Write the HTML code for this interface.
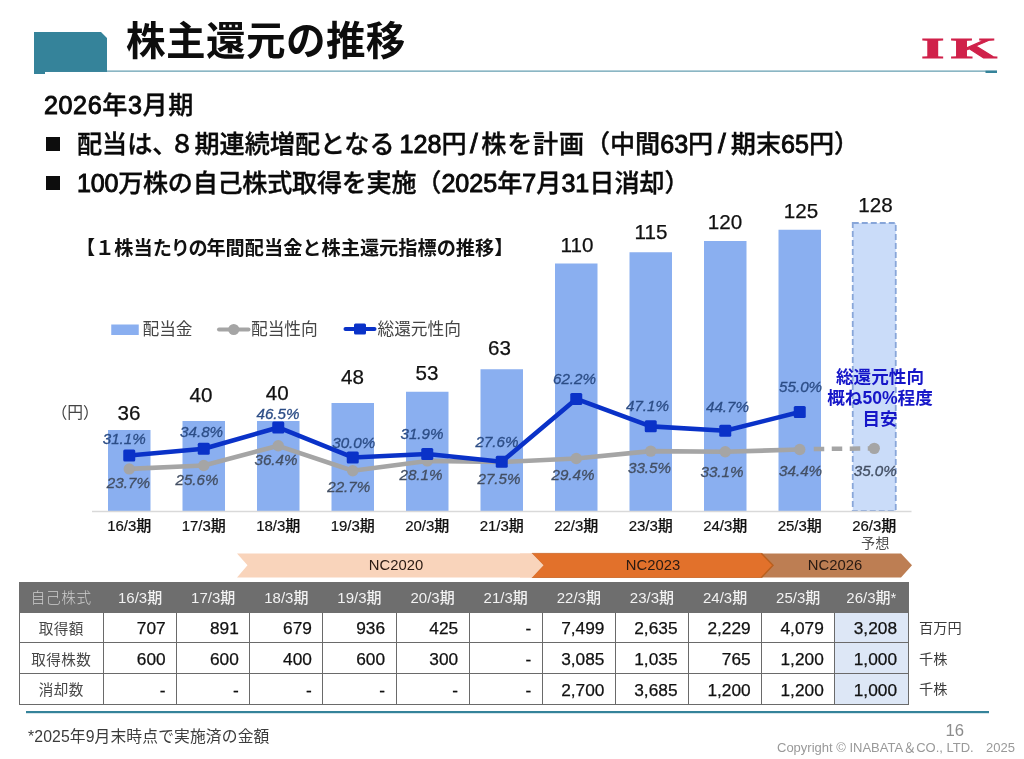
<!DOCTYPE html>
<html lang="ja"><head><meta charset="utf-8"><title>株主還元の推移</title>
<style>
html,body{margin:0;padding:0;background:#fff;}
body{width:1024px;height:759px;position:relative;overflow:hidden;font-family:"Liberation Sans","Noto Sans CJK JP",sans-serif;color:#111;}
#chart{position:absolute;left:0;top:0;}
.abs{position:absolute;white-space:nowrap;}
#title{left:126px;top:12.5px;font:bold 39.6px/56px "Liberation Sans","Noto Sans CJK JP",sans-serif;color:#0d0d0d;letter-spacing:0.4px;}
.hd{font-family:"Liberation Sans","Noto Sans CJK JP",sans-serif;font-weight:500;color:#0a0a0a;-webkit-text-stroke:0.35px #0a0a0a;font-size:25.1px;line-height:36px;}
.m3{margin-left:5px;}
.w{letter-spacing:0.8px;}
.d{-webkit-text-stroke:0.95px #0a0a0a;}
.sl2{padding:0 4.9px;font-size:1.12em;line-height:1;-webkit-text-stroke:0.9px #0a0a0a;}
.sl{padding:0 3.5px;font-size:1.12em;line-height:1;-webkit-text-stroke:0.9px #0a0a0a;}
.n{letter-spacing:-0.25px;}
.p{letter-spacing:-8px;}
#h1{left:44px;top:87px;letter-spacing:0.6px;}
#b1{left:77px;top:126px;}
#b2{left:77px;top:165.2px;}
.sq{position:absolute;width:14px;height:14px;background:#0d0d0d;left:46px;}
#sub{left:76px;top:235.2px;font:bold 19.2px/28px "Liberation Sans","Noto Sans CJK JP",sans-serif;color:#111;}
svg text{font-family:"Liberation Sans","Noto Sans CJK JP",sans-serif;}
.leg text{font-size:16.7px;fill:#444;font-family:"Liberation Sans","Noto Sans CJK JP",sans-serif;font-weight:400;}
.bl text{font-size:20.6px;fill:#111;text-anchor:middle;stroke:#111;stroke-width:0.25px;}
.dl text{font-size:15.2px;font-style:italic;text-anchor:middle;stroke-width:0.3px;}
.dl.b text{fill:#2c4d86;stroke:#2c4d86;}
.dl.g text{fill:#434f63;stroke:#434f63;}
.xl text{font-size:15px;fill:#111;text-anchor:middle;font-weight:500;stroke:#111;stroke-width:0.2px;}
.yos{font-size:14.2px;fill:#4d4d4d;text-anchor:middle;font-family:"Liberation Sans","Noto Sans CJK JP",sans-serif !important;font-weight:400;}
.yen{font-size:15.8px;fill:#444;font-family:"Liberation Sans","Noto Sans CJK JP",sans-serif !important;font-weight:400;}
.ann text{font-size:17.6px;font-weight:bold;fill:#1616c8;text-anchor:middle;font-family:"Liberation Sans","Noto Sans CJK JP",sans-serif;}
.nc text{font-size:14.8px;fill:#2a1a12;text-anchor:middle;}
.logo{font-family:"Liberation Serif",serif !important;font-weight:bold;font-size:28.8px;fill:#d0214a;stroke:#d0214a;stroke-width:0.9px;letter-spacing:3.3px;}
#tb{position:absolute;left:18.5px;top:581.5px;border-collapse:collapse;table-layout:fixed;width:890px;}
#tb th,#tb td{border:1px solid #6a6a6a;padding:0;height:30.75px;box-sizing:border-box;}
#tb tr.h th{background:#6e6e6e;color:#fff;font-weight:500;font-size:15px;border-color:#6e6e6e;height:30px;padding-bottom:1.5px;color:#f2f2f2;}
#tb tr.h th.c0{width:84.5px;color:#cdcdcd;font-family:"Liberation Sans","Noto Sans CJK JP",sans-serif;font-weight:300;letter-spacing:0.6px;font-size:14.6px;}
#tb td.c0{text-align:center;color:#484848;font-family:"Liberation Sans","Noto Sans CJK JP",sans-serif;font-weight:400;font-size:14.6px;letter-spacing:0.4px;}
#tb td{text-align:right;padding-top:3px;padding-right:10.5px;font-size:17.3px;color:#111;-webkit-text-stroke:0.25px #111;}
#tb td.c0{padding-right:0;padding-top:0;-webkit-text-stroke:0;}
#tb td.f{background:#dde7f6;}
.unit{position:absolute;left:919px;font:400 14.2px/22px "Liberation Sans","Noto Sans CJK JP",sans-serif;color:#3a3a3a;}
#fn{left:28px;top:725px;font:400 15.8px/24px "Liberation Sans","Noto Sans CJK JP",sans-serif;color:#3c3c3c;letter-spacing:0.1px;}
#pg{left:945.5px;top:721px;font-size:16.7px;line-height:20px;color:#8c8c8c;}
#cp{left:777px;top:740.5px;font-size:13px;line-height:14px;color:#999;}
</style></head><body>
<svg id="chart" width="1024" height="759" viewBox="0 0 1024 759">
<rect x="108.00" y="430.00" width="42.5" height="81.00" fill="#8aaff0"/>
<rect x="182.50" y="421.00" width="42.5" height="90.00" fill="#8aaff0"/>
<rect x="257.00" y="421.00" width="42.5" height="90.00" fill="#8aaff0"/>
<rect x="331.50" y="403.00" width="42.5" height="108.00" fill="#8aaff0"/>
<rect x="406.00" y="391.75" width="42.5" height="119.25" fill="#8aaff0"/>
<rect x="480.50" y="369.25" width="42.5" height="141.75" fill="#8aaff0"/>
<rect x="555.00" y="263.50" width="42.5" height="247.50" fill="#8aaff0"/>
<rect x="629.50" y="252.25" width="42.5" height="258.75" fill="#8aaff0"/>
<rect x="704.00" y="241.00" width="42.5" height="270.00" fill="#8aaff0"/>
<rect x="778.50" y="229.75" width="42.5" height="281.25" fill="#8aaff0"/>
<rect x="852.75" y="223.00" width="43" height="288.00" fill="#cadcf9" stroke="#88a6d9" stroke-width="1.8" stroke-dasharray="6 3"/>
<line x1="92" y1="511.5" x2="911.5" y2="511.5" stroke="#d9d9d9" stroke-width="1.5"/>
<polyline points="129.25,468.91 203.75,465.46 278.25,445.82 352.75,470.73 427.25,460.91 501.75,462.00 576.25,458.55 650.75,451.10 725.25,451.82 799.75,449.46" fill="none" stroke="#a5a5a5" stroke-width="4.6" stroke-linejoin="round" stroke-linecap="round"/>
<line x1="813.75" y1="449.06" x2="874.25" y2="448.37" stroke="#a5a5a5" stroke-width="4.5" stroke-dasharray="10.5 7.5"/>
<circle cx="129.25" cy="468.91" r="5.7" fill="#a5a5a5"/>
<circle cx="203.75" cy="465.46" r="5.7" fill="#a5a5a5"/>
<circle cx="278.25" cy="445.82" r="5.7" fill="#a5a5a5"/>
<circle cx="352.75" cy="470.73" r="5.7" fill="#a5a5a5"/>
<circle cx="427.25" cy="460.91" r="5.7" fill="#a5a5a5"/>
<circle cx="501.75" cy="462.00" r="5.7" fill="#a5a5a5"/>
<circle cx="576.25" cy="458.55" r="5.7" fill="#a5a5a5"/>
<circle cx="650.75" cy="451.10" r="5.7" fill="#a5a5a5"/>
<circle cx="725.25" cy="451.82" r="5.7" fill="#a5a5a5"/>
<circle cx="799.75" cy="449.46" r="5.7" fill="#a5a5a5"/>
<circle cx="874.25" cy="448.37" r="5.7" fill="#a5a5a5"/>
<polyline points="129.25,455.46 203.75,448.73 278.25,427.46 352.75,457.46 427.25,454.01 501.75,461.82 576.25,398.92 650.75,426.37 725.25,430.74 799.75,412.01" fill="none" stroke="#0a32c8" stroke-width="4.6" stroke-linejoin="round" stroke-linecap="round"/>
<rect x="123.25" y="449.46" width="12" height="12" rx="1.5" fill="#0a32c8"/>
<rect x="197.75" y="442.73" width="12" height="12" rx="1.5" fill="#0a32c8"/>
<rect x="272.25" y="421.46" width="12" height="12" rx="1.5" fill="#0a32c8"/>
<rect x="346.75" y="451.46" width="12" height="12" rx="1.5" fill="#0a32c8"/>
<rect x="421.25" y="448.01" width="12" height="12" rx="1.5" fill="#0a32c8"/>
<rect x="495.75" y="455.82" width="12" height="12" rx="1.5" fill="#0a32c8"/>
<rect x="570.25" y="392.92" width="12" height="12" rx="1.5" fill="#0a32c8"/>
<rect x="644.75" y="420.37" width="12" height="12" rx="1.5" fill="#0a32c8"/>
<rect x="719.25" y="424.74" width="12" height="12" rx="1.5" fill="#0a32c8"/>
<rect x="793.75" y="406.01" width="12" height="12" rx="1.5" fill="#0a32c8"/>
<rect x="111.25" y="324.5" width="27.5" height="10.5" fill="#8aaff0"/>
<line x1="219" y1="329.5" x2="248.5" y2="329.5" stroke="#a5a5a5" stroke-width="4" stroke-linecap="round"/><circle cx="233.75" cy="329.5" r="5.5" fill="#a5a5a5"/>
<line x1="345.5" y1="329" x2="374.5" y2="329" stroke="#0a32c8" stroke-width="4" stroke-linecap="round"/><rect x="354" y="323.5" width="12" height="11" rx="1.5" fill="#0a32c8"/>
<g class="leg"><text x="142.5" y="335">配当金</text><text x="251" y="335">配当性向</text><text x="377.5" y="335">総還元性向</text></g>
<g class="bl">
<text x="129" y="420">36</text>
<text x="201" y="401.5">40</text>
<text x="277.25" y="399.5">40</text>
<text x="352.5" y="384">48</text>
<text x="427" y="379.8">53</text>
<text x="499.5" y="355.3">63</text>
<text x="577" y="251.75">110</text>
<text x="651" y="238.75">115</text>
<text x="725" y="229.25">120</text>
<text x="801" y="218">125</text>
<text x="875.5" y="212">128</text>
</g>
<g class="dl b">
<text x="124.25" y="443.75">31.1%</text>
<text x="201.6" y="437">34.8%</text>
<text x="278" y="419">46.5%</text>
<text x="353.75" y="447.5">30.0%</text>
<text x="422" y="439">31.9%</text>
<text x="497" y="446.5">27.6%</text>
<text x="574.5" y="384">62.2%</text>
<text x="647.5" y="411">47.1%</text>
<text x="727.5" y="411.5">44.7%</text>
<text x="800.6" y="391.5">55.0%</text>
</g><g class="dl g">
<text x="128.4" y="488">23.7%</text>
<text x="197" y="485">25.6%</text>
<text x="276" y="465">36.4%</text>
<text x="348.75" y="491.5">22.7%</text>
<text x="421" y="480">28.1%</text>
<text x="499" y="483.8">27.5%</text>
<text x="573" y="479.7">29.4%</text>
<text x="649.5" y="473">33.5%</text>
<text x="722" y="476.5">33.1%</text>
<text x="800.6" y="476">34.4%</text>
<text x="875.3" y="476">35.0%</text>
</g>
<g class="xl">
<text x="129.25" y="531">16/3期</text>
<text x="203.75" y="531">17/3期</text>
<text x="278.25" y="531">18/3期</text>
<text x="352.75" y="531">19/3期</text>
<text x="427.25" y="531">20/3期</text>
<text x="501.75" y="531">21/3期</text>
<text x="576.25" y="531">22/3期</text>
<text x="650.75" y="531">23/3期</text>
<text x="725.25" y="531">24/3期</text>
<text x="799.75" y="531">25/3期</text>
<text x="874.25" y="531">26/3期</text>
</g>
<text class="yos" x="875.3" y="548">予想</text>
<text class="yen" x="51.5" y="418">（円）</text>
<g class="ann"><text x="880" y="383">総還元性向</text><text x="880" y="404">概ね50%程度</text><text x="880" y="425">目安</text></g>
<polygon points="237,553.4 532,553.4 543.5,565.25 532,577.5 237,577.5 247.5,565.25" fill="#f9d4bb"/>
<polygon points="761,553.4 901,553.4 912,565.25 901,577.5 761,577.5 772.5,565.25" fill="#bd7e53"/>
<polygon points="532,553.4 761.5,553.4 773,565.25 761.5,577.5 532,577.5 543.5,565.25" fill="#e2712b" stroke="#c9621f" stroke-width="0.8"/>
<polygon points="532,553.4 543.5,565.25 532,577.5 520,577.5 520,553.4" fill="#f9d4bb"/>
<polyline points="761.5,553.4 773,565.25 761.5,577.5" fill="none" stroke="#b9601f" stroke-width="1.4"/>
<g class="nc"><text x="396" y="570">NC2020</text><text x="653" y="570">NC2023</text><text x="835" y="570">NC2026</text></g>
<polygon points="34,32 101,32 107,38 107,72 45,72 45,74 34,74" fill="#35839a"/>
<rect x="45" y="70.6" width="952" height="1" fill="#3f879e"/>
<rect x="985.5" y="70.7" width="11.5" height="2.3" fill="#35839a"/>
<rect x="26" y="711" width="963" height="2.2" fill="#35839a"/>
<text class="logo" transform="translate(921.3,57.5) scale(2.05,1)" x="0" y="0">IK</text>
</svg>
<div class="abs" id="title">株主還元の推移</div>
<div class="abs hd" id="h1"><span class="d">2026</span>年<span class="d">3</span>月期</div>
<div class="sq" style="top:137px"></div>
<div class="abs hd" id="b1">配当は<span class="p">、</span>８期連続増配となる<span class="m3"><span class="d">128</span></span>円<span class="sl">/</span><span class="w">株を計画</span>（中間<span class="d">63</span>円<span class="sl2">/</span>期末<span class="d">65</span>円）</div>
<div class="sq" style="top:176px"></div>
<div class="abs hd" id="b2"><span class="n"><span class="d">100</span>万株の自己株式取得を実施</span>（<span class="d">2025</span>年<span class="d">7</span>月<span class="d">31</span>日消却）</div>
<div class="abs" id="sub">【１株当<span style="letter-spacing:-1.3px">たりの</span>年間配当金と株主還元指標の推移】</div>
<table id="tb"><tr class="h"><th class="c0">自己株式</th><th>16/3期</th><th>17/3期</th><th>18/3期</th><th>19/3期</th><th>20/3期</th><th>21/3期</th><th>22/3期</th><th>23/3期</th><th>24/3期</th><th>25/3期</th><th>26/3期*</th></tr><tr><td class="c0">取得額</td><td class="">707</td><td class="">891</td><td class="">679</td><td class="">936</td><td class="">425</td><td class="">-</td><td class="">7,499</td><td class="">2,635</td><td class="">2,229</td><td class="">4,079</td><td class="f">3,208</td></tr><tr><td class="c0">取得株数</td><td class="">600</td><td class="">600</td><td class="">400</td><td class="">600</td><td class="">300</td><td class="">-</td><td class="">3,085</td><td class="">1,035</td><td class="">765</td><td class="">1,200</td><td class="f">1,000</td></tr><tr><td class="c0">消却数</td><td class="">-</td><td class="">-</td><td class="">-</td><td class="">-</td><td class="">-</td><td class="">-</td><td class="">2,700</td><td class="">3,685</td><td class="">1,200</td><td class="">1,200</td><td class="f">1,000</td></tr></table>
<div class="unit" style="top:616.5px">百万円</div><div class="unit" style="top:647.5px">千株</div><div class="unit" style="top:678px">千株</div>
<div class="abs" id="fn">*2025年9月末時点で実施済の金額</div>
<div class="abs" id="pg">16</div>
<div class="abs" id="cp">Copyright © INABATA＆CO., LTD.&nbsp;&nbsp;&nbsp;<span style="margin-left:1.5px">2025</span></div>
</body></html>
